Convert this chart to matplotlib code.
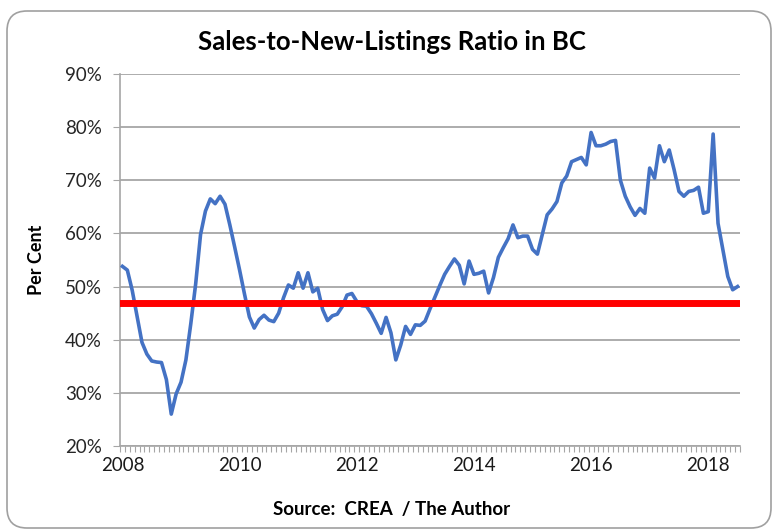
import matplotlib
matplotlib.use('Agg')
import matplotlib.pyplot as plt
from matplotlib.patches import FancyBboxPatch
import numpy as np

plt.rcParams['font.family'] = ['Lato', 'DejaVu Sans']

# monthly sales-to-new-listings ratio (%), Jan 2008 - Jul 2018
ratio = [
    53.8, 53.1, 49.3, 44.4, 39.5, 37.3, 36.0, 35.8, 35.7, 32.5, 26.0, 29.8,  # 2008
    32.0, 36.2, 43.0, 50.5, 59.8, 64.2, 66.5, 65.6, 67.0, 65.5, 61.6, 57.4,  # 2009
    53.1, 48.6, 44.3, 42.2, 43.8, 44.6, 43.7, 43.4, 45.0, 47.9, 50.3, 49.7,  # 2010
    52.6, 49.7, 52.6, 49.0, 49.7, 45.7, 43.6, 44.5, 44.8, 46.2, 48.4, 48.7,  # 2011
    47.2, 46.4, 46.3, 44.9, 43.1, 41.2, 44.2, 41.3, 36.2, 39.0, 42.5, 41.0,  # 2012
    42.8, 42.7, 43.5, 45.8, 48.0, 50.2, 52.3, 53.8, 55.2, 54.0, 50.5, 54.8,  # 2013
    52.3, 52.5, 52.9, 48.8, 51.7, 55.5, 57.3, 59.0, 61.6, 59.2, 59.5, 59.5,  # 2014
    57.0, 56.1, 59.8, 63.5, 64.6, 66.0, 69.5, 70.8, 73.5, 73.9, 74.3, 72.9,  # 2015
    79.0, 76.5, 76.5, 76.8, 77.3, 77.5, 70.0, 67.0, 65.0, 63.4, 64.7, 63.8,  # 2016
    72.3, 70.4, 76.5, 73.5, 75.7, 72.0, 67.9, 67.0, 67.9, 68.1, 68.7, 63.8,  # 2017
    64.1, 78.7, 61.9, 56.9, 51.9, 49.4, 50.0,                                # 2018
]
threshold = 47.0
year_labels = ['2008', '2010', '2012', '2014', '2016', '2018']
label_months = [0, 24, 48, 72, 96, 120]
y_ticks = [20, 30, 40, 50, 60, 70, 80, 90]

fig = plt.figure(figsize=(7.73, 5.31), dpi=100)
ax = fig.add_axes([120 / 773, 85 / 531, 620 / 773, 372 / 531])

n = len(ratio)
x = np.arange(n)
ax.plot(x, ratio, color='#4472C4', lw=2.6, zorder=3, solid_joinstyle='round')
ax.axhline(threshold, color='#FF0000', lw=5, zorder=4)

ax.set_xlim(-0.5, n - 0.5)
ax.set_ylim(20, 90)
ax.set_yticks(y_ticks)
ax.set_yticklabels([f'{v}%' for v in y_ticks])
ax.set_xticks(label_months)
ax.set_xticklabels(year_labels)
ax.set_xticks(np.arange(-0.5, n, 1), minor=True)

ax.grid(axis='y', color='#A6A6A6', lw=1.3, zorder=1)
for s in ['top', 'right']:
    ax.spines[s].set_visible(False)
for s in ['left', 'bottom']:
    ax.spines[s].set_color('#A6A6A6')
    ax.spines[s].set_linewidth(1.2)

ax.tick_params(axis='y', length=5, color='#A6A6A6', labelsize=13.5,
               labelcolor='#262626', pad=8)
ax.tick_params(axis='x', which='major', length=0, labelsize=13.5,
               labelcolor='#1a1a1a', pad=8)
ax.tick_params(axis='x', which='minor', length=4, color='#A6A6A6', width=0.8)

ax.set_ylabel('Per Cent', fontsize=13, fontweight='bold', labelpad=14)
fig.text(392 / 773, 1 - 42 / 531, 'Sales-to-New-Listings Ratio in BC',
         ha='center', va='center', fontsize=18.5, fontweight='bold')
fig.text(392 / 773, 1 - 509 / 531, 'Source:  CREA  / The Author',
         ha='center', va='center', fontsize=13.5, fontweight='bold')

border = FancyBboxPatch((0.07, 0.03), 7.64, 5.17,
                        boxstyle='round,pad=0,rounding_size=0.2',
                        transform=fig.dpi_scale_trans, fill=False,
                        edgecolor='#A0A0A0', lw=1.2)
fig.patches.append(border)

fig.savefig('out.png', dpi=100)
